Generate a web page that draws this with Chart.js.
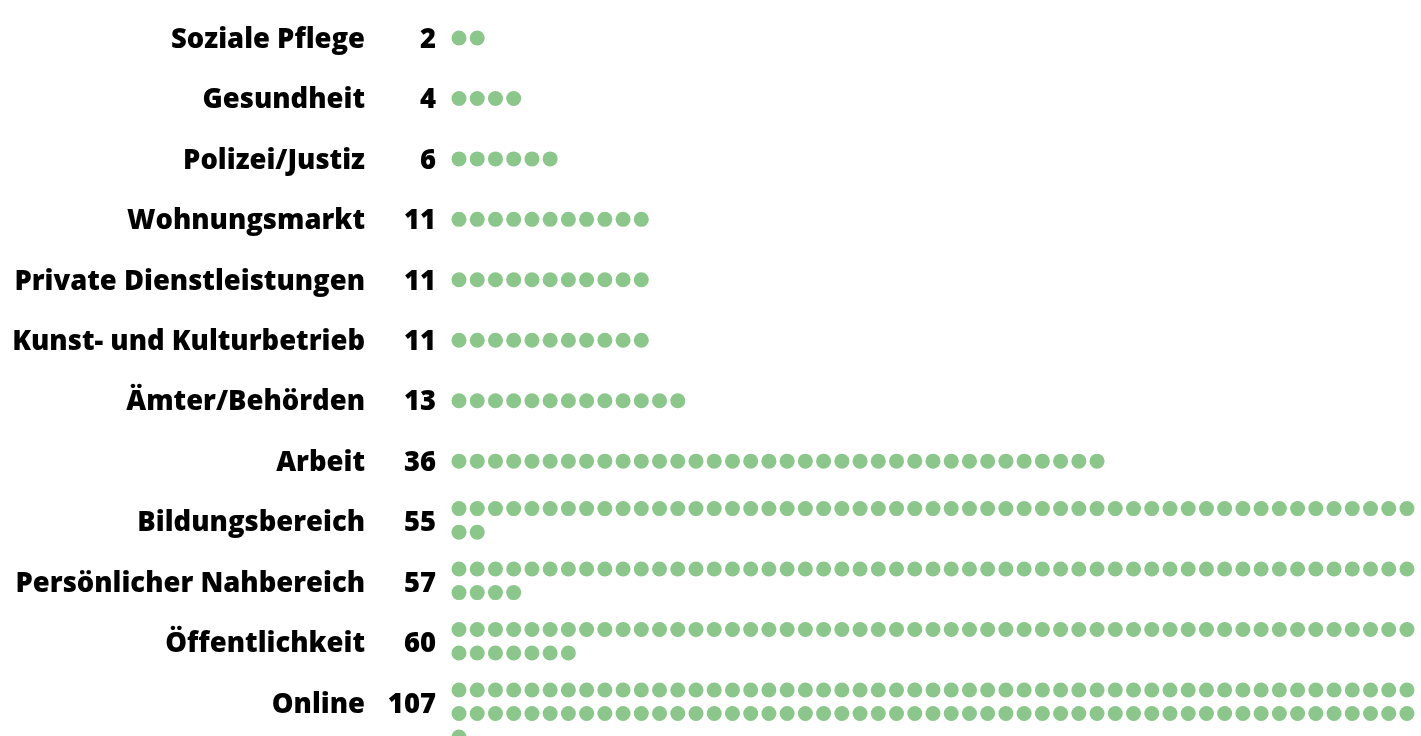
<!DOCTYPE html>
<html>
<head>
<meta charset="utf-8">
<script src="https://cdn.jsdelivr.net/npm/chart.js@4"></script>
<style>
  html, body { margin: 0; padding: 0; background: #fff; }
  #wrap { width: 1421px; height: 736px; position: relative; }
</style>
</head>
<body>
<div id="wrap"><canvas id="dots"></canvas></div>
<script>
// categories from top to bottom and number of cases for each
const categories = [
  "Soziale Pflege",
  "Gesundheit",
  "Polizei/Justiz",
  "Wohnungsmarkt",
  "Private Dienstleistungen",
  "Kunst- und Kulturbetrieb",
  "Ämter/Behörden",
  "Arbeit",
  "Bildungsbereich",
  "Persönlicher Nahbereich",
  "Öffentlichkeit",
  "Online",
];
const counts = [2, 4, 6, 11, 11, 11, 13, 36, 55, 57, 60, 107];

const perRow = 53; // dots before wrapping to next line
const subRow = 0.39; // gap between wrapped lines (in category units)
const wrapShift = -0.215; // first line moves up when a category wraps

// one point per case
var points = [];
counts.forEach((n, i) => {
  var lines = Math.ceil(n / perRow);
  var start = lines > 1 ? i + wrapShift : i;
  for (let k = 0; k < n; k++) {
    points.push({ x: k % perRow, y: start + Math.floor(k / perRow) * subRow });
  }
});

const labelFont = "800 27.4px 'Open Sans'";

// draws category names and the counts left of the dots
const rowLabels = {
  id: "rowLabels",
  afterDraw(chart) {
    var ctx = chart.ctx;
    var y = chart.scales.y;
    ctx.save();
    ctx.fillStyle = "#000";
    ctx.font = labelFont;
    ctx.textAlign = "right";
    ctx.textBaseline = "middle";
    categories.forEach((c, i) => {
      var py = y.getPixelForValue(i) + 2;
      ctx.fillText(c, 365, py);
      ctx.fillText(String(counts[i]), 436, py);
    });
    ctx.restore();
  },
};

const ctx = document.getElementById("dots").getContext("2d");
new Chart(ctx, {
  type: "scatter",
  data: {
    datasets: [
      {
        data: points,
        pointRadius: 7.5,
        pointHoverRadius: 7.5,
        pointBackgroundColor: "#8bc68b",
        pointBorderWidth: 0,
        borderWidth: 0,
      },
    ],
  },
  options: {
    responsive: true,
    maintainAspectRatio: false,
    animation: false,
    layout: {
      autoPadding: false,
      padding: { left: 450, right: 0, top: 0, bottom: 0 },
    },
    plugins: { legend: { display: false }, tooltip: { enabled: false } },
    scales: {
      x: { display: false, min: -0.494, max: 52.77 },
      y: { display: false, reverse: true, min: -0.6286, max: 11.547 },
    },
  },
  plugins: [rowLabels],
});
</script>
</body>
</html>
